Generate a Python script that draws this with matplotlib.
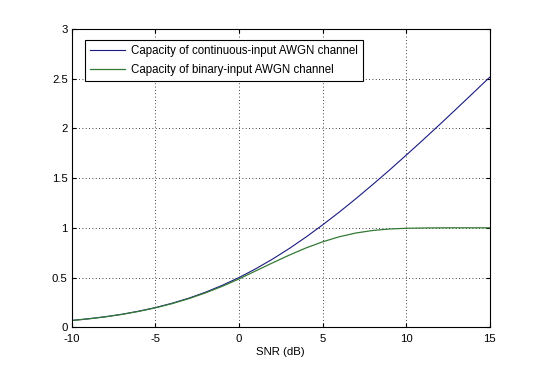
import matplotlib
matplotlib.use("Agg")
import matplotlib.pyplot as plt

# ── data ─────────────────────────────────────────────────────────────────────
snr_db = [-10, -9, -8, -7, -6, -5, -4, -3, -2, -1, 0, 1, 2, 3, 4,
          5, 6, 7, 8, 9, 10, 11, 12, 13, 14, 15]
cap_continuous = [0.069, 0.086, 0.106, 0.131, 0.162, 0.198, 0.242, 0.293,
                  0.353, 0.422, 0.500, 0.588, 0.685, 0.791, 0.906, 1.029,
                  1.158, 1.294, 1.435, 1.580, 1.730, 1.882, 2.037, 2.195,
                  2.354, 2.514]
cap_binary = [0.068, 0.0845, 0.105, 0.1297, 0.1597, 0.1957, 0.238, 0.288,
              0.346, 0.412, 0.486, 0.567, 0.647, 0.725, 0.797, 0.859,
              0.910, 0.948, 0.973, 0.988, 0.995, 0.998, 0.9995, 1.0,
              1.0, 1.0]
labels = ["Capacity of continuous-input AWGN channel",
          "Capacity of binary-input AWGN channel"]

# ── style ────────────────────────────────────────────────────────────────────
plt.rcParams.update({
    "font.family": ["Liberation Sans", "DejaVu Sans"],
    "font.size": 8,
    "axes.unicode_minus": False,
    "xtick.direction": "in",
    "ytick.direction": "in",
    "xtick.top": True,
    "ytick.right": True,
    "xtick.major.size": 3,
    "ytick.major.size": 3,
})

fig = plt.figure(figsize=(5.4, 3.69), dpi=100)
ax = fig.add_axes([0.133, 0.113, 0.774, 0.809])

ax.plot(snr_db, cap_continuous, color="#1a1a80", lw=0.8, label=labels[0])
ax.plot(snr_db, cap_binary, color="#347a34", lw=0.9, label=labels[1])

ax.set_xlim(-10, 15)
ax.set_ylim(0, 3)
ax.set_xticks([-10, -5, 0, 5, 10, 15])
ax.set_yticks([0, 0.5, 1, 1.5, 2, 2.5, 3])
ax.set_yticklabels(["0", "0.5", "1", "1.5", "2", "2.5", "3"])
ax.grid(True, color="black", linestyle=(0, (1, 3)), linewidth=0.6)
for s in ax.spines.values():
    s.set_linewidth(0.8)
ax.tick_params(axis="x", labelsize=8.2, pad=5)
ax.tick_params(axis="y", labelsize=8.2, pad=3)
ax.set_xlabel("SNR (dB)", fontsize=8.2, labelpad=2)

leg = ax.legend(loc="upper left", bbox_to_anchor=(0.018, 0.982),
                fancybox=False, framealpha=1, edgecolor="black",
                handlelength=3.0, handletextpad=0.5, borderpad=0.45,
                labelspacing=0.6, fontsize=8.3)
leg.get_frame().set_linewidth(0.8)

plt.savefig("out.png", dpi=100)
